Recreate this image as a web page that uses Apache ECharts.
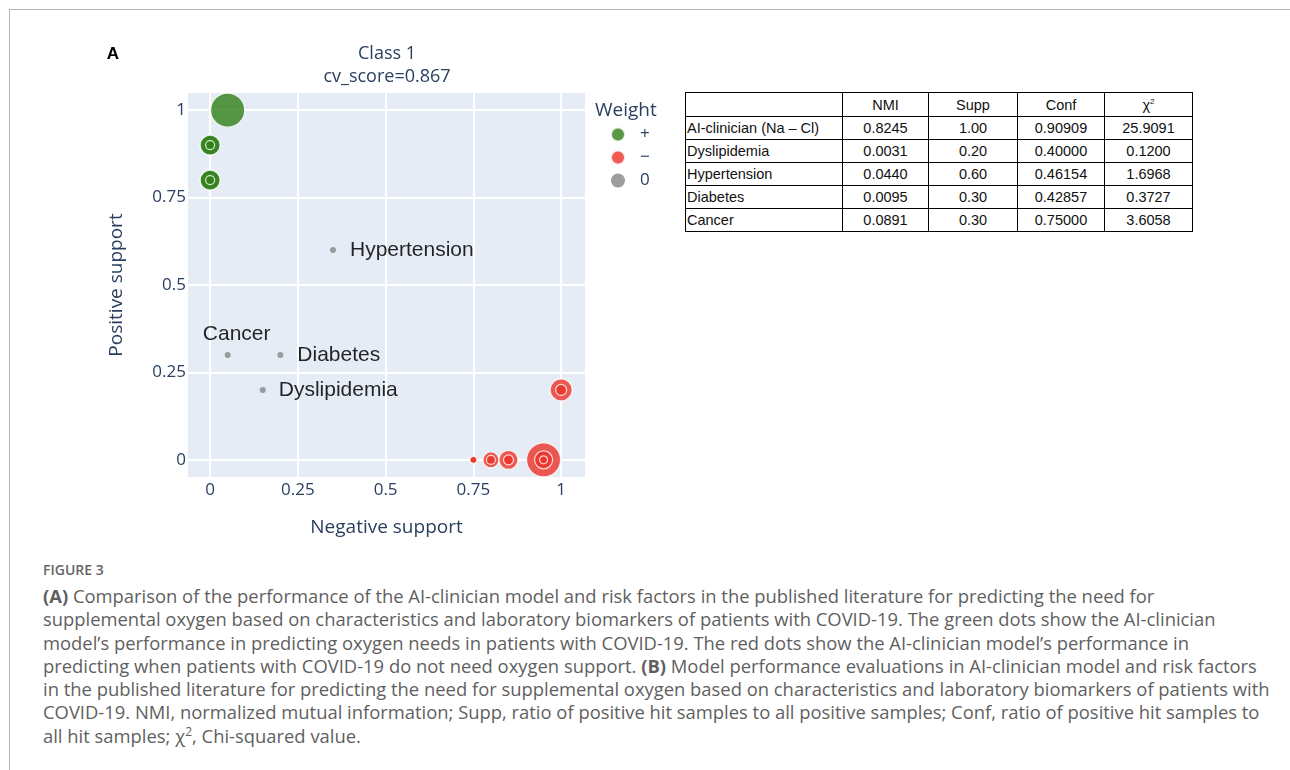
<!DOCTYPE html>
<html>
<head>
<meta charset="utf-8">
<title>Figure 3</title>
<script src="https://cdn.jsdelivr.net/npm/echarts@6/dist/echarts.min.js"></script>
<style>
  html, body { margin: 0; padding: 0; background: #fff; }
  body { width: 1290px; height: 770px; position: relative; overflow: hidden; }
  .frame {
    position: absolute; left: 9px; top: 9px; right: 0; bottom: 0;
    border-top: 1px solid #b4b4b4; border-left: 1px solid #b4b4b4;
  }
  #chart { position: absolute; left: 0; top: 0; width: 680px; height: 550px; }
  .stats {
    position: absolute; left: 685px; top: 92px;
    border-collapse: collapse;
    font-family: "Liberation Sans", Arial, sans-serif; font-size: 14.5px; color: #111;
  }
  .stats td, .stats th {
    border: 1px solid #000; padding: 0 2px; height: 22px;
    text-align: center; font-weight: normal; white-space: nowrap;
  }
  .stats th { height: 23px; }
  .stats td.name { text-align: left; padding-left: 1px; }
  .caption {
    position: absolute; left: 43px; top: 560px;
    font-family: "Open Sans", sans-serif; color: #5f5f5f;
  }
  .caption .fig { font-size: 14px; font-weight: 600; color: #666; margin-bottom: 4px; height: 20px; line-height: 20px; }
  .caption .body { font-size: 18.4px; line-height: 23.3px; white-space: nowrap; }
  .caption b { font-weight: 700; }
  .caption sup { font-size: 12px; line-height: 0; }
</style>
</head>
<body>
<div class="frame"></div>
<div id="chart"></div>
<table class="stats" id="stats"></table>
<div class="caption">
  <div class="fig">FIGURE 3</div>
  <div class="body">
    <b>(A)</b> Comparison of the performance of the AI-clinician model and risk factors in the published literature for predicting the need for<br>
    supplemental oxygen based on characteristics and laboratory biomarkers of patients with COVID-19. The green dots show the AI-clinician<br>
    model’s performance in predicting oxygen needs in patients with COVID-19. The red dots show the AI-clinician model’s performance in<br>
    predicting when patients with COVID-19 do not need oxygen support. <b>(B)</b> Model performance evaluations in AI-clinician model and risk factors<br>
    in the published literature for predicting the need for supplemental oxygen based on characteristics and laboratory biomarkers of patients with<br>
    COVID-19. NMI, normalized mutual information; Supp, ratio of positive hit samples to all positive samples; Conf, ratio of positive hit samples to<br>
    all hit samples; χ<sup>2</sup>, Chi-squared value.
  </div>
</div>
<script>
// panel A: rules by weight sign (x = negative support, y = positive support, m = bubble diameter)
const posX = [0.05, 0, 0, 0, 0, 0, 0];
const posY = [1, 0.9, 0.9, 0.9, 0.8, 0.8, 0.8];
const posM = [34, 20, 20, 9, 20, 20, 9];

const negX = [0.75, 0.75, 0.8, 0.8, 0.85, 0.85, 0.95, 0.95, 0.95, 1, 1];
const negY = [0, 0, 0, 0, 0, 0, 0, 0, 0, 0.2, 0.2];
const negM = [7, 7, 16, 9, 19, 10, 34, 18, 8, 22, 11];

const riskNames = ['Hypertension', 'Diabetes', 'Dyslipidemia', 'Cancer'];
const riskX = [0.35, 0.2, 0.15, 0.05];
const riskY = [0.6, 0.3, 0.2, 0.3];

const axisTicks = [0, 0.25, 0.5, 0.75, 1];

// panel B
const tableHeader = ['', 'NMI', 'Supp', 'Conf', 'χ<sup style="font-size:8px">2</sup>'];
const tableNames = ['AI-clinician (Na – Cl)', 'Dyslipidemia', 'Hypertension', 'Diabetes', 'Cancer'];
const nmi = ['0.8245', '0.0031', '0.0440', '0.0095', '0.0891'];
const supp = ['1.00', '0.20', '0.60', '0.30', '0.30'];
const conf = ['0.90909', '0.40000', '0.46154', '0.42857', '0.75000'];
const chi2 = ['25.9091', '0.1200', '1.6968', '0.3727', '3.6058'];

const colWidths = [152, 81, 84, 82, 83];
let html = '<tr>' + tableHeader.map((h, i) => `<th style="width:${colWidths[i]}px">${h}</th>`).join('') + '</tr>';
tableNames.forEach((n, i) => {
  html += `<tr><td class="name">${n}</td><td>${nmi[i]}</td><td>${supp[i]}</td><td>${conf[i]}</td><td>${chi2[i]}</td></tr>`;
});
document.getElementById('stats').innerHTML = html;

const axisColor = '#2a3f5f';
const font = '"Open Sans", sans-serif';

const chart = echarts.init(document.getElementById('chart'));

function bubbles(xs, ys, ms) {
  return xs.map((x, i) => [x, ys[i], ms[i]]);
}

chart.setOption({
  animation: false,
  graphic: [
    { type: 'text', x: 113, y: 54, style: { text: 'A', fontSize: 17, fontWeight: 'bold', fontFamily: 'Liberation Sans, Arial', fill: '#000', align: 'center', verticalAlign: 'middle' } },
    { type: 'text', x: 696, y: 54, style: { text: 'B', fontSize: 17, fontWeight: 'bold', fontFamily: 'Liberation Sans, Arial', fill: '#000', align: 'center', verticalAlign: 'middle' } },
    { type: 'text', x: 387, y: 54, style: { text: 'Class 1', fontSize: 18, fontFamily: font, fill: axisColor, align: 'center', verticalAlign: 'middle' } },
    { type: 'text', x: 387, y: 77, style: { text: 'cv_score=0.867', fontSize: 18, fontFamily: font, fill: axisColor, align: 'center', verticalAlign: 'middle' } },
    { type: 'text', x: 595, y: 111, style: { text: 'Weight', fontSize: 19, fontFamily: font, fill: axisColor, align: 'left', verticalAlign: 'middle' } }
  ],
  legend: {
    left: 610, top: 126, orient: 'vertical', padding: 0,
    itemWidth: 34, itemHeight: 14, itemGap: 6, icon: 'circle',
    selectedMode: false,
    textStyle: { fontSize: 17, color: axisColor, fontFamily: font },
    data: ['+', '−', '0']
  },
  grid: {
    left: 188, top: 93, width: 397, height: 384,
    show: true, backgroundColor: '#E5ECF6', borderWidth: 0
  },
  xAxis: {
    type: 'value', min: -0.063, max: 1.068,
    name: 'Negative support', nameLocation: 'middle', nameGap: 41,
    nameTextStyle: { fontSize: 19, color: axisColor, fontFamily: font },
    axisLine: { show: false },
    axisTick: { show: false, customValues: axisTicks },
    axisLabel: { customValues: axisTicks, margin: 5, fontSize: 17, color: axisColor, fontFamily: font },
    splitLine: { lineStyle: { color: '#fff', width: 2 } }
  },
  yAxis: {
    type: 'value', min: -0.049, max: 1.049,
    name: 'Positive support', nameLocation: 'middle', nameGap: 62,
    nameTextStyle: { fontSize: 19, color: axisColor, fontFamily: font },
    axisLine: { show: false },
    axisTick: { show: false, customValues: axisTicks },
    axisLabel: { customValues: axisTicks, margin: 2, fontSize: 17, color: axisColor, fontFamily: font },
    splitLine: { lineStyle: { color: '#fff', width: 2 } }
  },
  series: [
    {
      name: '+', type: 'scatter',
      data: bubbles(posX, posY, posM),
      symbolSize: d => d[2],
      itemStyle: { color: '#2f7f18', opacity: 0.8, borderColor: '#fff', borderWidth: 1.2 }
    },
    {
      name: '−', type: 'scatter',
      data: bubbles(negX, negY, negM),
      symbolSize: d => d[2],
      itemStyle: { color: '#eb3228', opacity: 0.8, borderColor: '#fff', borderWidth: 1.2 }
    },
    {
      name: '0', type: 'scatter',
      data: riskNames.map((n, i) => ({
        name: n,
        value: [riskX[i], riskY[i]],
        label: n === 'Cancer'
          ? { position: 'top', distance: 7, offset: [9, 0] }
          : { position: 'right', distance: n === 'Dyslipidemia' ? 13 : 14 }
      })),
      symbolSize: 6,
      itemStyle: { color: '#8c8c8c', opacity: 0.85 },
      label: {
        show: true, formatter: '{b}',
        fontSize: 21, color: '#000', fontFamily: 'Liberation Sans, Arial'
      }
    }
  ]
});
</script>
</body>
</html>
